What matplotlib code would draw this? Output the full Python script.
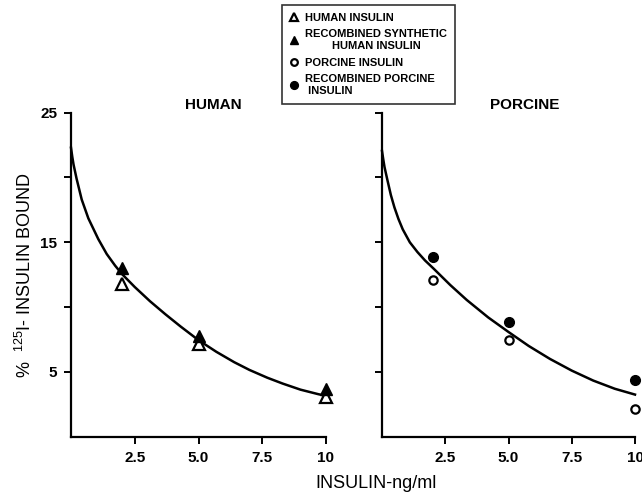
import matplotlib
matplotlib.use("Agg")
import matplotlib.pyplot as plt

plt.rcParams['font.family'] = ['Liberation Sans', 'DejaVu Sans']
plt.rcParams['mathtext.default'] = 'regular'

# insulin concentration (ng/ml) of the measured points
conc = [2, 5, 10]

# % 125I-insulin bound
human_insulin = [11.8, 7.15, 3.1]
recomb_human = [13.0, 7.77, 3.67]
porcine_insulin = [12.1, 7.44, 2.13]
recomb_porcine = [13.9, 8.85, 4.36]

# fitted displacement curves
human_curve_x = [0, 0.05, 0.1, 0.22, 0.42, 0.68, 1.07, 1.4, 1.73, 2.0, 2.5, 3.1, 3.7,
                 4.3, 5.0, 5.7, 6.4, 7.0, 7.7, 8.3, 9.0, 9.7, 10]
human_curve_y = [22.3, 21.6, 21.0, 19.9, 18.3, 16.85, 15.25, 14.1, 13.2, 12.55, 11.55,
                 10.45, 9.45, 8.5, 7.45, 6.55, 5.75, 5.15, 4.55, 4.1, 3.63, 3.28, 3.15]
porcine_curve_x = [0, 0.05, 0.1, 0.22, 0.35, 0.49, 0.65, 0.82, 1.1, 1.4, 1.7, 2.05, 2.7,
                   3.35, 4.2, 5.0, 5.8, 6.64, 7.5, 8.35, 9.2, 10]
porcine_curve_y = [22.05, 21.4, 20.8, 19.75, 18.65, 17.7, 16.8, 16.0, 15.0, 14.25,
                   13.6, 12.95, 11.7, 10.55, 9.2, 8.08, 7.0, 6.0, 5.1, 4.33, 3.7, 3.25]

xticks = [2.5, 5.0, 7.5, 10]
xticklabels = ['2.5', '5.0', '7.5', '10']
yticks = [5, 10, 15, 20, 25]
yticklabels = ['5', '', '15', '', '25']

W, H = 642, 496
fig = plt.figure(figsize=(W / 100, H / 100), dpi=100)
ax1 = fig.add_axes([71 / W, 1 - 436.7 / H, 255 / W, 324 / H])
ax2 = fig.add_axes([382 / W, 1 - 436.7 / H, 253 / W, 324 / H])

ax1.plot(human_curve_x, human_curve_y, color='black', lw=1.8, clip_on=False,
         solid_joinstyle='round')
h1, = ax1.plot(conc, human_insulin, ls='none', marker='^', ms=8, mfc='white',
               mec='black', mew=1.6, clip_on=False, label='HUMAN INSULIN')
h2, = ax1.plot(conc, recomb_human, ls='none', marker='^', ms=8, color='black',
               clip_on=False, label='RECOMBINED SYNTHETIC\nHUMAN INSULIN')

ax2.plot(porcine_curve_x, porcine_curve_y, color='black', lw=1.8, clip_on=False,
         solid_joinstyle='round')
h3, = ax2.plot(conc, porcine_insulin, ls='none', marker='o', ms=6, mfc='white',
               mec='black', mew=1.6, clip_on=False, label='PORCINE INSULIN')
h4, = ax2.plot(conc, recomb_porcine, ls='none', marker='o', ms=7, color='black',
               clip_on=False, label='RECOMBINED PORCINE\n INSULIN')

for ax, title, tx in [(ax1, 'HUMAN', 0.56), (ax2, 'PORCINE', 0.565)]:
    ax.set_xlim(0, 10)
    ax.set_ylim(0, 25)
    ax.spines['top'].set_visible(False)
    ax.spines['right'].set_visible(False)
    for s in ['left', 'bottom']:
        ax.spines[s].set_linewidth(1.6)
    ax.set_xticks(xticks)
    ax.set_xticklabels(xticklabels, fontsize=11, fontweight='bold')
    ax.set_yticks(yticks)
    ax.tick_params(direction='out', length=5, width=1.4, pad=5)
    ax.text(tx, 1.024, title, transform=ax.transAxes, ha='center', va='center',
            fontsize=11, fontweight='bold')

ax1.set_yticklabels(yticklabels, fontsize=11, fontweight='bold')
ax2.set_yticklabels([])

fig.text(25 / W, 1 - 275 / H, '%  $^{125}$I- INSULIN BOUND', rotation=90,
         ha='center', va='center', fontsize=13)
fig.text(376 / W, 1 - 484 / H, 'INSULIN-ng/ml', ha='center', va='center', fontsize=13)

leg = fig.legend(handles=[h1, h2, h3, h4], loc='upper left',
                 bbox_to_anchor=(282 / W, 1 - 5 / H), borderaxespad=0,
                 frameon=True, fancybox=False, edgecolor='black',
                 handlelength=0.8, handletextpad=0.6, labelspacing=0.6,
                 borderpad=0.7, markerscale=0.8, prop={'weight': 'bold', 'size': 8})
leg.get_frame().set_linewidth(1.2)
leg.get_texts()[1].set_multialignment('center')

fig.savefig('out.png', dpi=100)
